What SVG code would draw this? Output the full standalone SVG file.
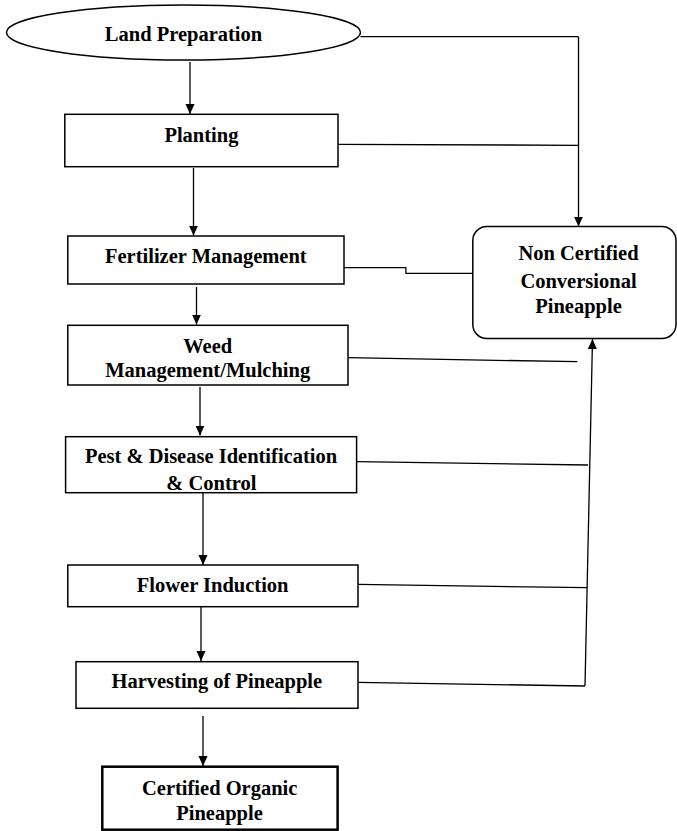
<svg xmlns="http://www.w3.org/2000/svg" width="677" height="831" viewBox="0 0 677 831">
<defs>
<marker id="ah" markerWidth="10" markerHeight="11" refX="11" refY="5" orient="auto" markerUnits="userSpaceOnUse" viewBox="0 0 11 10">
<path d="M0,0 L11,5 L0,10 Z" fill="#000"/>
</marker>
<style>
.box{fill:#fff;stroke:#000;stroke-width:1.5}
.t{font-family:"Liberation Serif","Times New Roman",serif;font-weight:bold;font-size:20.5px;text-anchor:middle;fill:#000}
.c{fill:none;stroke:#000;stroke-width:1.3}
.a{fill:none;stroke:#000;stroke-width:1.3;marker-end:url(#ah)}
</style>
</defs>
<rect width="677" height="831" fill="#fff"/>
<g id="connectors">
<line class="a" x1="190" y1="62" x2="190" y2="114"/>
<line class="a" x1="193.5" y1="168" x2="193.5" y2="235.5"/>
<line class="a" x1="196.5" y1="287" x2="196.5" y2="324.5"/>
<line class="a" x1="200" y1="387" x2="200" y2="435.5"/>
<line class="a" x1="203" y1="493" x2="203" y2="565"/>
<line class="a" x1="201" y1="607" x2="201" y2="661"/>
<line class="a" x1="203" y1="716" x2="203" y2="766"/>
<polyline class="c" points="360.5,36.7 578.5,36.7"/>
<line class="a" x1="578.5" y1="36.7" x2="578.5" y2="226.5"/>
<line class="c" x1="338" y1="144.3" x2="578.6" y2="145.3"/>
<polyline class="c" points="344,267.7 405.9,267.7 405.9,273.3 472.8,273.3"/>
<line class="c" x1="348" y1="357.7" x2="577.3" y2="361.7"/>
<line class="c" x1="356.6" y1="461.7" x2="588" y2="465"/>
<line class="c" x1="358" y1="584.3" x2="587" y2="587.7"/>
<polyline class="c" points="358,682.3 585,686"/>
<line class="a" x1="585" y1="686" x2="592.5" y2="339"/>
</g>
<g id="land-preparation">
<ellipse class="box" cx="183.5" cy="32.5" rx="177" ry="27.5"/>
<text class="t" x="183.5" y="41">Land Preparation</text>
</g>
<g id="planting">
<rect class="box" x="64.8" y="114.3" width="273.2" height="52.4"/>
<text class="t" x="201.4" y="141.7">Planting</text>
</g>
<g id="fertilizer-management">
<rect class="box" x="67.8" y="236" width="276.2" height="48"/>
<text class="t" x="205.8" y="263.3">Fertilizer Management</text>
</g>
<g id="non-certified">
<rect class="box" x="472.8" y="226.5" width="203.2" height="112" rx="14" ry="14"/>
<text class="t" x="578.5" y="260">Non Certified</text>
<text class="t" x="578.5" y="288">Conversional</text>
<text class="t" x="578.5" y="312.5">Pineapple</text>
</g>
<g id="weed-management">
<rect class="box" x="67.8" y="325.3" width="280.2" height="59.7"/>
<text class="t" x="207.7" y="353.3">Weed</text>
<text class="t" x="207.7" y="376.7">Management/Mulching</text>
</g>
<g id="pest-disease">
<rect class="box" x="65.6" y="436.7" width="291" height="56"/>
<text class="t" x="211" y="463.3">Pest &amp; Disease Identification</text>
<text class="t" x="211.4" y="490">&amp; Control</text>
</g>
<g id="flower-induction">
<rect class="box" x="67.8" y="565" width="290.2" height="41.7"/>
<text class="t" x="212.7" y="591.7">Flower Induction</text>
</g>
<g id="harvesting">
<rect class="box" x="76" y="661.7" width="282" height="46.6"/>
<text class="t" x="216.8" y="688.3">Harvesting of Pineapple</text>
</g>
<g id="certified-organic">
<rect x="102.3" y="766.7" width="235.3" height="63" fill="#fff" stroke="#000" stroke-width="2.5"/>
<text class="t" x="219.7" y="795">Certified Organic</text>
<text class="t" x="219.5" y="820">Pineapple</text>
</g>
</svg>
